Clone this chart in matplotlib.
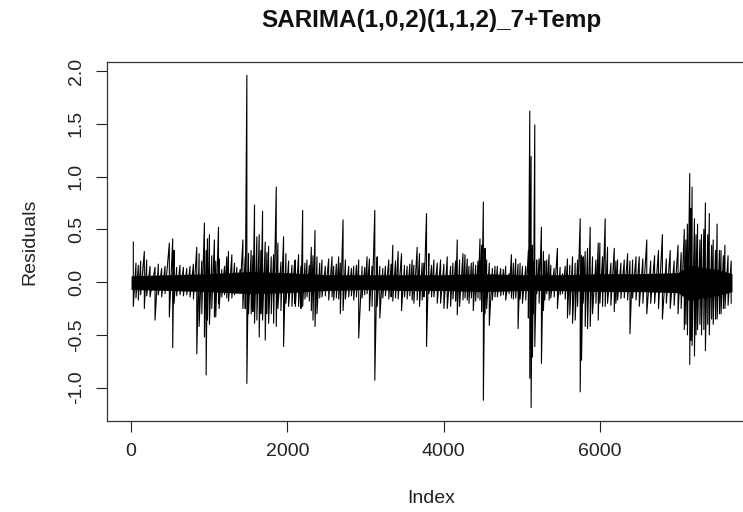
import matplotlib
matplotlib.use("Agg")
import matplotlib.pyplot as plt

plt.rcParams['font.family'] = ['Liberation Sans', 'DejaVu Sans']
plt.rcParams['axes.unicode_minus'] = False

# dense core of the residual band (index, upper edge, lower edge)
band_idx = [1, 500, 1000, 1500, 2000, 2500, 3000, 3500, 4000, 4500, 5000, 5500,
            6000, 6500, 7000, 7150, 7300, 7500, 7690]
band_hi = [0.06, 0.07, 0.08, 0.10, 0.09, 0.07, 0.07, 0.07, 0.07, 0.08, 0.07, 0.07,
           0.08, 0.08, 0.09, 0.16, 0.14, 0.12, 0.08]
band_lo = [-0.07, -0.08, -0.09, -0.11, -0.10, -0.08, -0.07, -0.08, -0.08, -0.09, -0.08, -0.08,
           -0.09, -0.09, -0.10, -0.18, -0.15, -0.13, -0.09]

# residual excursions: index, highest and lowest value
spike_idx = [30, 64, 94, 124, 171, 201, 244, 308, 350, 393, 436, 491, 534, 551, 585, 628, 671,
             714, 756, 799, 842, 872, 906, 940, 962, 979, 1004,
             1034, 1068, 1085, 1120, 1128, 1162, 1197, 1226, 1248, 1291, 1325, 1355, 1397, 1432,
             1462, 1483, 1504, 1538, 1560, 1581, 1611, 1641, 1662, 1684, 1718, 1739, 1761, 1795,
             1825, 1859, 1880, 1919, 1953, 1983, 2017, 2060, 2094,
             2103, 2145, 2175, 2197, 2226, 2252, 2282, 2308, 2329, 2355, 2380, 2415, 2444, 2487,
             2530, 2573, 2594, 2628, 2658, 2679, 2714, 2744, 2786, 2821, 2850, 2885, 2914, 2957,
             2991, 3021, 3051, 3085, 3120, 3150, 3184,
             3222, 3256, 3299, 3329, 3350, 3385, 3419, 3462, 3500, 3534, 3568, 3598, 3620, 3662,
             3692, 3726, 3748, 3782, 3812, 3846, 3876, 3919, 3962, 4004, 4047, 4090, 4120, 4154,
             4175, 4205, 4248, 4274,
             4303, 4325, 4355, 4380, 4410, 4440, 4466, 4487, 4509, 4530, 4551, 4585, 4624, 4658,
             4688, 4731, 4765, 4795, 4838, 4868, 4893, 4923, 4953, 4979, 5009, 5051, 5085, 5103,
             5120, 5137, 5150, 5167, 5192, 5222, 5252, 5278, 5295, 5320, 5350,
             5372, 5415, 5457, 5491, 5521, 5556, 5585, 5615, 5650, 5684, 5714, 5748, 5765, 5786,
             5812, 5842, 5876, 5906, 5949, 5979, 6000, 6034, 6068, 6098, 6141, 6184, 6205, 6226,
             6269, 6312, 6355, 6385, 6419, 6462, 6504,
             6550, 6600, 6650, 6700, 6750, 6800, 6850, 6900, 6950, 7000, 7040, 7080, 7100, 7120,
             7150, 7165, 7180, 7210, 7230, 7250, 7280, 7300, 7330, 7350, 7380, 7400, 7430, 7450,
             7480, 7500, 7530, 7550, 7580, 7600, 7640, 7680]
spike_hi = [0.38, 0.18, 0.16, 0.20, 0.29, 0.21, 0.15, 0.14, 0.17, 0.13, 0.15, 0.37, 0.41, 0.30,
            0.14, 0.16, 0.14, 0.13, 0.15, 0.17, 0.33, 0.27, 0.20, 0.56, 0.30, 0.41, 0.45,
            0.25, 0.40, 0.20, 0.52, 0.22, 0.12, 0.15, 0.24, 0.29, 0.26, 0.18, 0.14, 0.12, 0.40,
            0.24, 1.96, 0.27, 0.30, 0.25, 0.73, 0.43, 0.45, 0.30, 0.67, 0.38, 0.28, 0.34, 0.24,
            0.26, 0.90, 0.37, 0.19, 0.43, 0.27, 0.20, 0.16, 0.20,
            0.21, 0.26, 0.15, 0.68, 0.18, 0.21, 0.16, 0.33, 0.25, 0.49, 0.24, 0.18, 0.21, 0.15,
            0.22, 0.24, 0.15, 0.17, 0.24, 0.18, 0.59, 0.21, 0.15, 0.13, 0.15, 0.16, 0.21, 0.15,
            0.14, 0.24, 0.22, 0.15, 0.68, 0.24, 0.15,
            0.13, 0.15, 0.21, 0.17, 0.35, 0.20, 0.29, 0.27, 0.16, 0.15, 0.17, 0.21, 0.16, 0.33,
            0.27, 0.18, 0.18, 0.65, 0.27, 0.16, 0.21, 0.18, 0.21, 0.17, 0.24, 0.15, 0.18, 0.20,
            0.40, 0.21, 0.27, 0.26,
            0.22, 0.15, 0.18, 0.19, 0.16, 0.20, 0.41, 0.35, 0.76, 0.32, 0.21, 0.18, 0.13, 0.15,
            0.15, 0.13, 0.12, 0.15, 0.08, 0.26, 0.18, 0.22, 0.17, 0.18, 0.15, 0.15, 0.30, 1.62,
            1.19, 0.35, 0.19, 1.49, 0.21, 0.22, 0.52, 0.29, 0.20, 0.21, 0.26,
            0.16, 0.13, 0.32, 0.14, 0.08, 0.15, 0.22, 0.16, 0.24, 0.18, 0.21, 0.60, 0.25, 0.24,
            0.29, 0.32, 0.52, 0.24, 0.21, 0.37, 0.37, 0.24, 0.60, 0.33, 0.18, 0.32, 0.20, 0.21,
            0.18, 0.21, 0.27, 0.20, 0.21, 0.24, 0.24,
            0.22, 0.40, 0.20, 0.25, 0.30, 0.45, 0.22, 0.30, 0.20, 0.35, 0.28, 0.50, 0.40, 0.55,
            1.03, 0.70, 0.90, 0.60, 0.45, 0.55, 0.40, 0.45, 0.50, 0.75, 0.45, 0.65, 0.35, 0.40,
            0.30, 0.55, 0.30, 0.30, 0.25, 0.35, 0.25, 0.20]
spike_lo = [-0.23, -0.15, -0.17, -0.12, -0.25, -0.13, -0.14, -0.36, -0.12, -0.14, -0.11, -0.33,
            -0.62, -0.20, -0.13, -0.12, -0.13, -0.12, -0.14, -0.16, -0.68, -0.42, -0.30, -0.52,
            -0.88, -0.36, -0.40,
            -0.25, -0.33, -0.33, -0.20, -0.25, -0.14, -0.12, -0.15, -0.18, -0.15, -0.12, -0.10,
            -0.09, -0.25, -0.25, -0.96, -0.30, -0.30, -0.28, -0.39, -0.36, -0.52, -0.30, -0.36,
            -0.55, -0.30, -0.39, -0.30, -0.39, -0.42, -0.25, -0.27, -0.61, -0.20, -0.23, -0.23,
            -0.20,
            -0.23, -0.23, -0.25, -0.23, -0.16, -0.14, -0.18, -0.27, -0.36, -0.42, -0.30, -0.15,
            -0.14, -0.13, -0.17, -0.14, -0.17, -0.15, -0.16, -0.30, -0.27, -0.16, -0.14, -0.13,
            -0.17, -0.14, -0.53, -0.15, -0.12, -0.11, -0.27, -0.23, -0.93, -0.23, -0.34,
            -0.15, -0.13, -0.16, -0.14, -0.18, -0.15, -0.16, -0.27, -0.14, -0.16, -0.13, -0.17,
            -0.20, -0.17, -0.23, -0.17, -0.14, -0.61, -0.11, -0.14, -0.14, -0.20, -0.20, -0.25,
            -0.25, -0.23, -0.16, -0.18, -0.31, -0.23, -0.17, -0.15,
            -0.17, -0.20, -0.15, -0.27, -0.18, -0.15, -0.17, -0.28, -1.12, -0.30, -0.25, -0.41,
            -0.17, -0.14, -0.14, -0.13, -0.12, -0.17, -0.11, -0.15, -0.16, -0.15, -0.44, -0.16,
            -0.20, -0.17, -0.34, -0.91, -1.19, -0.71, -0.30, -0.61, -0.11, -0.20, -0.77, -0.27,
            -0.17, -0.11, -0.17,
            -0.15, -0.14, -0.25, -0.12, -0.11, -0.16, -0.34, -0.31, -0.39, -0.36, -0.23, -1.04,
            -0.74, -0.20, -0.42, -0.44, -0.42, -0.30, -0.20, -0.36, -0.20, -0.23, -0.23, -0.20,
            -0.22, -0.28, -0.20, -0.17, -0.155, -0.15, -0.17, -0.49, -0.15, -0.17, -0.23,
            -0.20, -0.30, -0.20, -0.20, -0.25, -0.35, -0.20, -0.25, -0.22, -0.30, -0.25, -0.45,
            -0.40, -0.50, -0.78, -0.55, -0.60, -0.70, -0.50, -0.45, -0.40, -0.50, -0.45, -0.65,
            -0.40, -0.50, -0.35, -0.40, -0.35, -0.35, -0.30, -0.30, -0.25, -0.25, -0.22, -0.20]

xticks = [0, 2000, 4000, 6000]
yticks = [-1.0, -0.5, 0.0, 0.5, 1.0, 1.5, 2.0]

W, H = 743, 512
fig = plt.figure(figsize=(W / 100, H / 100), dpi=100)
ax = fig.add_axes([107 / W, 1 - 421 / H, 649 / W, 359 / H])

# trace the series as R's line plot would: up to the high, down to the low, on to the next
xs, ys = [], []
for i, hi, lo in zip(spike_idx, spike_hi, spike_lo):
    xs += [i, i]
    ys += [hi, lo]

ax.fill_between(band_idx, band_lo, band_hi, color='black', lw=0)
ax.plot(xs, ys, color='black', lw=0.8)
ax.margins(x=0.04, y=0.04)

ax.set_xticks(xticks)
ax.set_xticklabels([str(t) for t in xticks])
ax.set_yticks(yticks)
ax.set_yticklabels(['%.1f' % t for t in yticks], rotation=90, va='center')
ax.tick_params(labelsize=14, length=8, width=0.8, pad=8, colors='#222222')
for s in ax.spines.values():
    s.set_linewidth(0.9)
    s.set_color('#333333')

ax.set_xlabel('Index', fontsize=14, color='#222222')
ax.xaxis.set_label_coords(0.5, -0.2145)
ax.xaxis.label.set_va('center')
ax.set_ylabel('Residuals', fontsize=14, color='#222222')
ax.yaxis.set_label_coords(-77 / 649, 0.5)
ax.yaxis.label.set_va('center')
ax.yaxis.label.set_ha('center')

ax.text(0.5, 1 + 42 / 359, 'SARIMA(1,0,2)(1,1,2)_7+Temp', transform=ax.transAxes,
        ha='center', va='center', fontsize=17.5, fontweight='bold', color='#111111')

fig.savefig('out.png', dpi=100)
